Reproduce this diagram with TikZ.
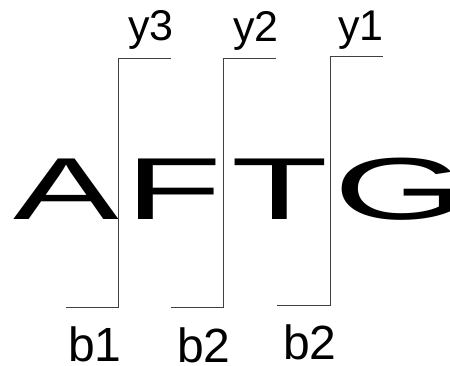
\documentclass[tikz,border=0pt]{standalone}
\usepackage{fontspec}
\setmainfont{Liberation Sans}
\usepackage{tikz}
\usetikzlibrary{positioning}

\begin{document}
\begin{tikzpicture}[
    x=1pt, y=1pt,
    letter/.style={inner sep=0pt, anchor=base, font=\fontsize{88}{88}\selectfont},
    toplabel/.style={inner sep=0pt, anchor=base, font=\fontsize{43}{43}\selectfont},
    botlabel/.style={inner sep=0pt, anchor=base, font=\fontsize{48}{48}\selectfont},
    bracket/.style={draw=black!75, line width=0.8pt}
]
\useasboundingbox (0,0) rectangle (450,366);

% Sequence letters
\node[letter] (a) at (66.5,146) {\scalebox{1.8}[1]{A}};
\node[letter] (f) at (174,146) {\scalebox{1.8}[1]{F}};
\node[letter] (t) at (280,146) {\scalebox{1.8}[1]{T}};
\node[letter] (g) at (400,146) {\scalebox{1.95}[1]{G}};

% Cut 1
\coordinate (top1) at (118,308);
\coordinate (bot1) at (118,59);
\coordinate (tr1) at (171,308);
\coordinate (bl1) at (66,59);

% Cut 2
\coordinate (top2) at (223.5,308);
\coordinate (bot2) at (223.5,59);
\coordinate (tr2) at (276,308);
\coordinate (bl2) at (171,59);

% Cut 3
\coordinate (top3) at (330,309.5);
\coordinate (bot3) at (330,61);
\coordinate (tr3) at (383,309.5);
\coordinate (bl3) at (277,61);

% Upper labels
\node[toplabel] (y3) at (151,325) {y3};
\node[toplabel] (y2) at (256,324) {y2};
\node[toplabel] (y1) at (361,325) {y1};

% Lower labels
\node[botlabel] (b1) at (95,4) {b1};
\node[botlabel] (b2) at (204,3) {b2};
\node[botlabel] (b2b) at (310,6) {b2};

% Brackets
\draw[bracket] (bl1) -- (bot1) -- (top1) -- (tr1);
\draw[bracket] (bl2) -- (bot2) -- (top2) -- (tr2);
\draw[bracket] (bl3) -- (bot3) -- (top3) -- (tr3);

\end{tikzpicture}
\end{document}
